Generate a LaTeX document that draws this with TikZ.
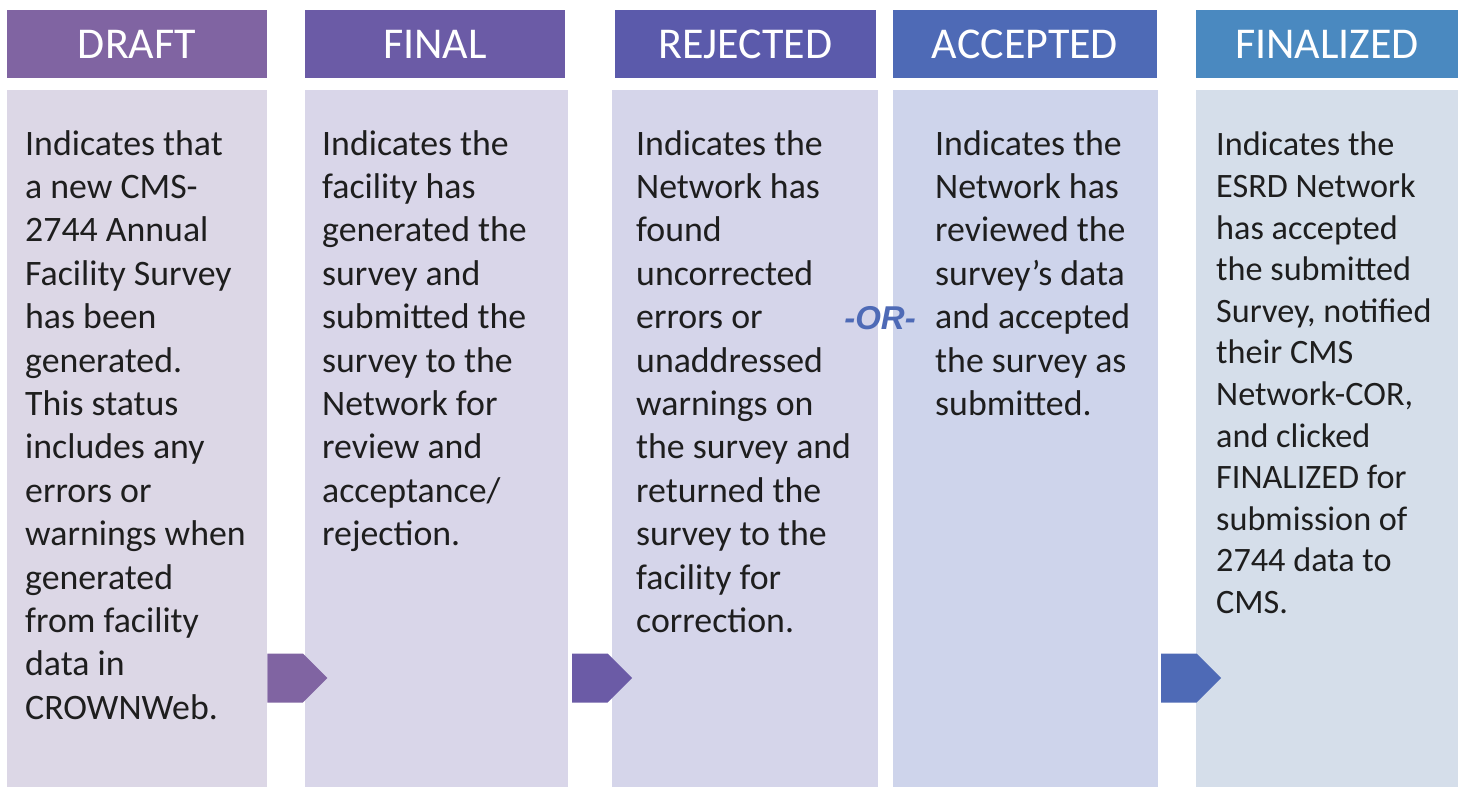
\documentclass[tikz,border=0pt]{standalone}
\usepackage{fontspec}
\setmainfont{Carlito}
\newfontfamily\orfont{Liberation Sans}
\usetikzlibrary{shapes.symbols}

\definecolor{draftc}{HTML}{8064A2}
\definecolor{finalc}{HTML}{6B5BA6}
\definecolor{rejectc}{HTML}{5B5AAB}
\definecolor{acceptc}{HTML}{4E6AB6}
\definecolor{finalizec}{HTML}{4A89C0}
\definecolor{draftbg}{HTML}{DCD7E6}
\definecolor{finalbg}{HTML}{D9D6E9}
\definecolor{rejectbg}{HTML}{D5D5EA}
\definecolor{acceptbg}{HTML}{CED4EB}
\definecolor{finalizebg}{HTML}{D5DEEA}
\definecolor{bodyink}{HTML}{1E1E1E}

\begin{document}
\begin{tikzpicture}[x=1pt, y=-1pt,
headbox/.style={rectangle, minimum height=68pt, inner sep=0pt, text=white, font=\fontsize{44}{50}\selectfont},
bodybox/.style={rectangle, minimum height=697pt, inner sep=0pt},
bodytext/.style={anchor=north west, inner sep=0pt, align=left, text=bodyink, font=\fontsize{35.8}{43.4}\selectfont},
chevron/.style={signal, signal to=east, signal pointer angle=90, minimum width=60pt, minimum height=49pt, inner sep=0pt, anchor=west},
]
\useasboundingbox (0,0) rectangle (1461,787);
%Nodes
\node[headbox, fill=draftc, minimum width=260pt]    at (137,44) (hdraft) {DRAFT};
\node[headbox, fill=finalc, minimum width=260pt]    at (435,44) (hfinal) {FINAL};
\node[headbox, fill=rejectc, minimum width=261pt]   at (745.5,44) (hreject) {REJECTED};
\node[headbox, fill=acceptc, minimum width=264pt]   at (1025,44) (haccept) {ACCEPTED};
\node[headbox, fill=finalizec, minimum width=262pt] at (1327,44) (hfinalize) {FINALIZED};
\node[bodybox, fill=draftbg, minimum width=260pt]    at (137,438.5) (bdraft) {};
\node[bodybox, fill=finalbg, minimum width=263pt]    at (436.5,438.5) (bfinal) {};
\node[bodybox, fill=rejectbg, minimum width=266pt]   at (745,438.5) (breject) {};
\node[bodybox, fill=acceptbg, minimum width=265pt]   at (1025.5,438.5) (baccept) {};
\node[bodybox, fill=finalizebg, minimum width=262pt] at (1327,438.5) (bfinalize) {};
%Texts
\node[bodytext] at (25,130) (tdraft) {Indicates that\\a new CMS-\\2744 Annual\\Facility Survey\\has been\\generated.\\This status\\includes any\\errors or\\warnings when\\generated\\from facility\\data in\\CROWNWeb.};
\node[bodytext] at (322,130) (tfinal) {Indicates the\\facility has\\generated the\\survey and\\submitted the\\survey to the\\Network for\\review and\\acceptance/\\rejection.};
\node[bodytext] at (636,130) (treject) {Indicates the\\Network has\\found\\uncorrected\\errors or\\unaddressed\\warnings on\\the survey and\\returned the\\survey to the\\facility for\\correction.};
\node[bodytext] at (935,130) (taccept) {Indicates the\\Network has\\reviewed the\\survey’s data\\and accepted\\the survey as\\submitted.};
\node[bodytext, font=\fontsize{34.2}{41.6}\selectfont] at (1216,132) (tfinalize) {Indicates the\\ESRD Network\\has accepted\\the submitted\\Survey, notified\\their CMS\\Network-COR,\\and clicked\\FINALIZED for\\submission of\\2744 data to\\CMS.};
\node[text=acceptc, font=\orfont\bfseries\itshape\fontsize{33}{36}\selectfont] at (880,318) (orsep) {-OR-};
%Arrows
\node[chevron, fill=draftc]  at (bdraft.east |- 0,678) (adraft) {};
\node[chevron, fill=finalc]  at (572,678) (afinal) {};
\node[chevron, fill=acceptc] at (1161,678) (aaccept) {};
\end{tikzpicture}
\end{document}
